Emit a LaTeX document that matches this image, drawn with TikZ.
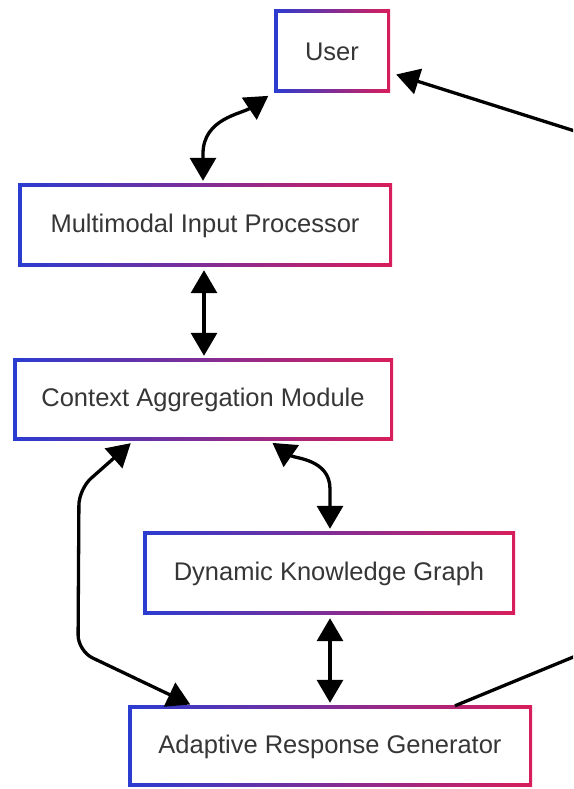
\documentclass[tikz,border=0pt]{standalone}
\usepackage{fontspec}
\setmainfont{Liberation Sans}
\usetikzlibrary{arrows.meta,calc}
\definecolor{gblue}{HTML}{2B3CD0}
\definecolor{gred}{HTML}{D81E5B}
\definecolor{txt}{HTML}{363636}
\tikzset{
  gbox/.style={rectangle, inner sep=0pt, fill=white, text=txt,
    font=\fontsize{25.5}{30}\selectfont,
    path picture={
      \shade[left color=gblue,right color=gred]
        (path picture bounding box.south west) rectangle (path picture bounding box.north east);
      \fill[white]
        ([shift={(3.5pt,3.5pt)}]path picture bounding box.south west) rectangle
        ([shift={(-3.5pt,-3.5pt)}]path picture bounding box.north east);
    }},
  tipk/.tip={Triangle[length=23pt,width=26pt]},
  conn/.style={line width=3.3pt, black, tipk-tipk,
    shorten <=3pt, shorten >=3pt},
  conn1/.style={line width=3.3pt, black, -tipk}
}
\begin{document}
\begin{tikzpicture}[x=1pt,y=1pt]
\useasboundingbox (0,0) rectangle (573,789);
\clip (0,0) rectangle (573,789);
\fill[white] (0,0) rectangle (573,789);

\node[gbox, minimum width=116pt, minimum height=83pt] (user) at (332,737.5) {User};
\node[gbox, minimum width=374pt, minimum height=83pt] (mip) at (205,563.5) {Multimodal Input Processor};
\node[gbox, minimum width=380pt, minimum height=82pt] (cam) at (203,389) {Context Aggregation Module};
\node[gbox, minimum width=372pt, minimum height=83pt] (dkg) at (329,215.5) {Dynamic Knowledge Graph};
\node[gbox, minimum width=404pt, minimum height=81pt] (arg) at (330,42.5) {Adaptive Response Generator};

% User <-> Multimodal
\draw[conn] ([xshift=-2pt]mip.north) -- ++(0,30) to[out=90,in=214] ([shift={(-3pt,-1pt)}]user.south west);
% Multimodal <-> Context
\draw[conn] ([xshift=-1pt]mip.south) -- ([xshift=-1pt]mip.south |- cam.north);
% Context <-> Dynamic Knowledge Graph
\coordinate (c3) at (330,300);
\draw[conn] ([xshift=67pt]cam.south) to[out=-35,in=90] (c3) -- (dkg.north -| c3);
% Dynamic Knowledge Graph <-> Adaptive
\draw[conn] ([xshift=1pt]dkg.south) -- ([xshift=1pt]dkg.south |- arg.north);
% Context <-> Adaptive (left loop)
\coordinate (l1) at (79,300);
\coordinate (l2) at (78,138);
\draw[conn, rounded corners=16pt] ([xshift=-70pt]cam.south) -- (l1) -- (l2) -- ([xshift=-137pt]arg.north);
% Adaptive -> User (right loop, off the page)
\coordinate (r1) at (600,143);
\coordinate (r2) at (600,650);
\draw[conn1] ([xshift=125pt]arg.north) -- (r1) -- (r2) -- ([shift={(6pt,-23pt)}]user.east);
\end{tikzpicture}
\end{document}
